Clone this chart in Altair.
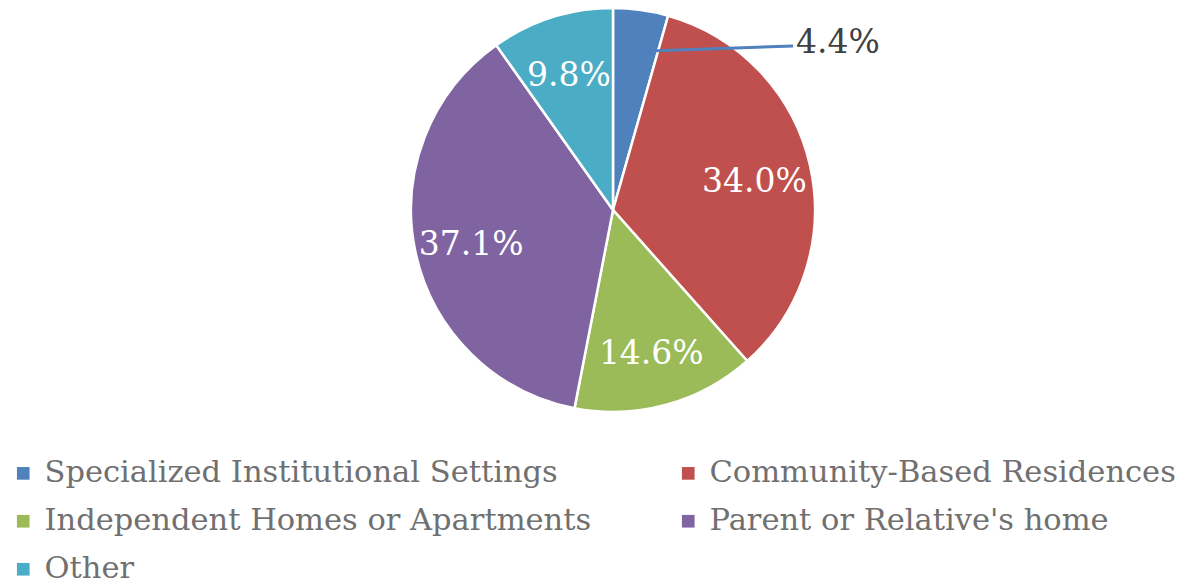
import altair as alt
import pandas as pd
import math

categories = [
    "Specialized Institutional Settings",
    "Community-Based Residences",
    "Independent Homes or Apartments",
    "Parent or Relative's home",
    "Other",
]
values = [4.4, 34.0, 14.6, 37.1, 9.8]
colors = ["#4F81BD", "#C0504D", "#9BBB59", "#8064A2", "#4BACC6"]

CX, CY, R = 605, 202, 202
FONT = "DejaVu Serif"

df = pd.DataFrame({"cat": categories, "value": values, "idx": list(range(len(values)))})
total = sum(values)
cum = 0
lx, ly = [], []
for v in values:
    mid = (cum + v / 2) / total * 2 * math.pi
    lx.append(CX + 160 * math.sin(mid))
    ly.append(CY - 160 * math.cos(mid))
    cum += v
df["lx"] = lx
df["ly"] = ly

base = alt.Chart(df).encode(
    theta=alt.Theta("value:Q", stack=True),
    order=alt.Order("idx:Q"),
)

arcs = base.mark_arc(outerRadius=R, stroke="white", strokeWidth=2.5, x=CX, y=CY).encode(
    color=alt.Color(
        "cat:N",
        scale=alt.Scale(domain=categories, range=colors),
        sort=categories,
        legend=alt.Legend(
            title=None,
            orient="none",
            legendX=0,
            legendY=450,
            direction="horizontal",
            columns=2,
            columnPadding=81,
            rowPadding=17,
            padding=0,
            symbolType="square",
            symbolSize=160,
            symbolStrokeWidth=0,
            labelFont=FONT,
            labelFontSize=30.5,
            labelColor="#707070",
            labelOffset=6,
            labelLimit=800,
        ),
    )
)

labels = base.mark_text(
    radius=145, x=CX, y=CY, dy=4, font=FONT, fontSize=33, color="white"
).transform_calculate(
    lab="datum.value >= 5 ? format(datum.value, '.1f') + '%' : ''"
).encode(text="lab:N")

small = alt.Chart(df).transform_filter("datum.value < 5")

leader = small.mark_rule(color="#4F81BD", strokeWidth=3).encode(
    x=alt.X("lx:Q", scale=None),
    y=alt.Y("ly:Q", scale=None),
    x2=alt.value(CX + 180),
    y2=alt.value(38),
)

outer = small.mark_text(
    font=FONT, fontSize=33, color="#404040", align="left", baseline="middle"
).transform_calculate(
    lab="format(datum.value, '.1f') + '%'"
).encode(
    text="lab:N",
    x=alt.value(CX + 183),
    y=alt.value(35),
)

chart = (
    alt.layer(arcs, labels, leader, outer)
    .properties(width=1176, height=571, autosize="none", padding=0)
    .configure_view(stroke=None)
)

chart.save("out.html", embed_options={"renderer": "svg", "actions": False})
